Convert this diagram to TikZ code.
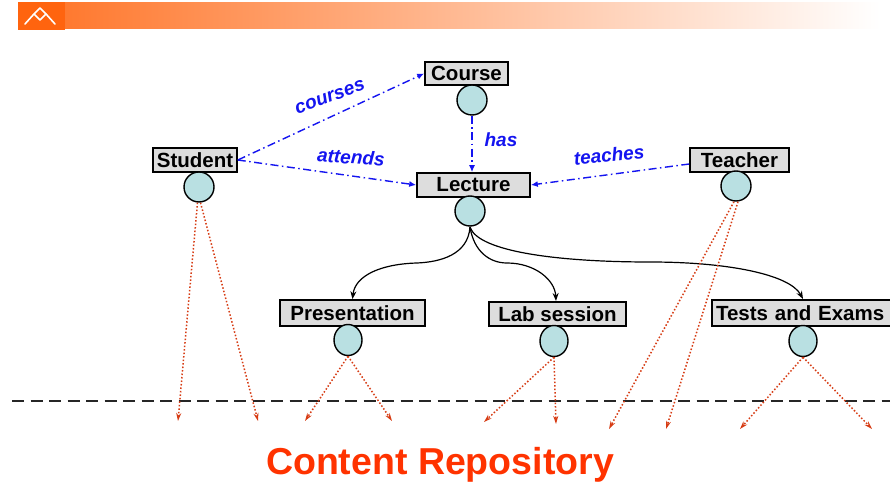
\documentclass[tikz,border=0pt]{standalone}
\usepackage{fontspec}
\setmainfont{Liberation Sans}
\usetikzlibrary{arrows.meta,shapes.geometric}
\definecolor{boxgray}{RGB}{221,221,221}
\definecolor{circfill}{RGB}{185,224,226}
\definecolor{relblue}{RGB}{20,20,240}
\definecolor{dotred}{RGB}{215,60,20}
\definecolor{titlered}{RGB}{255,51,0}
\definecolor{hdrorange}{RGB}{255,110,30}
\definecolor{logoorange}{RGB}{255,100,15}
\tikzset{
  entity/.style={draw=black,line width=1.6pt,fill=boxgray,inner sep=0pt,minimum height=24pt,font=\fontsize{20.5}{21}\selectfont\bfseries},
  blob/.style={draw=black,line width=1.4pt,fill=circfill,ellipse,inner sep=0pt,minimum width=30pt,minimum height=30pt},
  rel/.style={draw=relblue,line width=1.4pt,dash pattern=on 8pt off 3.5pt on 1.5pt off 3.5pt,-{Latex[length=7pt,width=6pt]}},
  rellabel/.style={text=relblue,font=\fontsize{19}{19}\selectfont\bfseries\itshape,inner sep=0pt},
  sub/.style={draw=black,line width=1.2pt,-{Stealth[length=8pt,width=6pt]}},
  store/.style={draw=dotred,line width=1.5pt,dotted,-{Stealth[length=8pt,width=5pt]}}
}
\begin{document}
\begin{tikzpicture}[x=1pt,y=-1pt]
\useasboundingbox (0,0) rectangle (890,486);
\clip (0,0) rectangle (890,486);
\fill[white] (0,0) rectangle (890,486);
% header bar
\shade[left color=hdrorange!95!white, right color=white] (40,3) rectangle (880,29);
\fill[logoorange] (18,2) rectangle (65,30);
\draw[white,line width=1.6pt,line join=round,line cap=round] (25,24) -- (34,14) -- (40,8) -- (46,14) -- (40,20) -- (34,14);
\draw[white,line width=1.6pt,line join=round,line cap=round] (46,14) -- (55,24);
% nodes
\node[entity,minimum width=83pt,minimum height=23pt] (course) at (466.5,73.5) {Course};
\node[blob] (coursec) at (472,100) {};
\node[entity,minimum width=84pt] (student) at (195,160) {Student};
\node[blob] (studentc) at (199,187) {};
\node[entity,minimum width=113pt] (lecture) at (473.5,185) {Lecture};
\node[blob] (lecturec) at (470,211) {};
\node[entity,minimum width=99pt] (teacher) at (739.5,160) {Teacher};
\node[blob] (teacherc) at (736,186) {};
\node[entity,minimum width=145pt,minimum height=26pt] (pres) at (352.5,313) {Presentation};
\node[blob,minimum width=28pt,minimum height=31pt] (presc) at (348,340) {};
\node[entity,minimum width=137pt] (lab) at (557.5,314) {Lab session};
\node[blob,minimum width=28pt,minimum height=31pt] (labc) at (554,341) {};
\node[entity,minimum width=186pt,minimum height=26pt,text width=178pt,align=left] (tests) at (805,313) {Tests and Exams};
\node[blob,minimum width=28pt,minimum height=31pt] (testsc) at (803,341) {};
% relations
\draw[rel] (student.east) -- (course.west);
\draw[rel] (student.east) -- (lecture.west);
\draw[rel] (coursec.south) -- (lecture.north -| coursec.south);
\draw[rel] ([yshift=-4pt]teacher.west) -- (lecture.east);
\node[rellabel,rotate=20] (lcourses) at (330,97) {courses};
\node[rellabel,rotate=-4] (lattends) at (351,157) {attends};
\node[rellabel] (lhas) at (501,140) {has};
\node[rellabel,rotate=6] (lteaches) at (609,155) {teaches};
% sub-structure
\coordinate (lb) at (470,227);
\draw[sub] (lb) .. controls (468,255) and (440,262) .. (417,263)
                .. controls (380,264) and (355,276) .. (pres.north);
\draw[sub] (lb) .. controls (474,252) and (490,263) .. (507,263)
                .. controls (535,263) and (555,280) .. (556,301);
\draw[sub] (lb) .. controls (478,252) and (560,262) .. (650,262)
                .. controls (730,262) and (790,275) .. (803,299);
% dashed line
\draw[black!85,line width=2pt,dash pattern=on 12pt off 6.5pt] (12,401) -- (890,401);
% content arrows
\coordinate (s1) at (178,421); \coordinate (s2) at (258,421);
\coordinate (p1) at (305,421); \coordinate (p2) at (392,421);
\coordinate (l1) at (484,422); \coordinate (l2) at (556,424);
\coordinate (t1) at (609,429); \coordinate (t2) at (666,429);
\coordinate (e1) at (740,429); \coordinate (e2) at (872,429);
\draw[store] ([xshift=-1.5pt]studentc.south) -- (s1);
\draw[store] ([xshift=1.5pt]studentc.south) -- (s2);
\draw[store] (presc.south) -- (p1);
\draw[store] (presc.south) -- (p2);
\draw[store] (labc.south) -- (l1);
\draw[store] (labc.south) -- (l2);
\draw[store] ([xshift=-2pt]teacherc.south) -- (t1);
\draw[store] ([xshift=2pt]teacherc.south) -- (t2);
\draw[store] (testsc.south) -- (e1);
\draw[store] (testsc.south) -- (e2);
% title
\node[text=titlered,font=\fontsize{37.5}{38}\selectfont\bfseries] (repo) at (440,465) {Content Repository};
\end{tikzpicture}
\end{document}
